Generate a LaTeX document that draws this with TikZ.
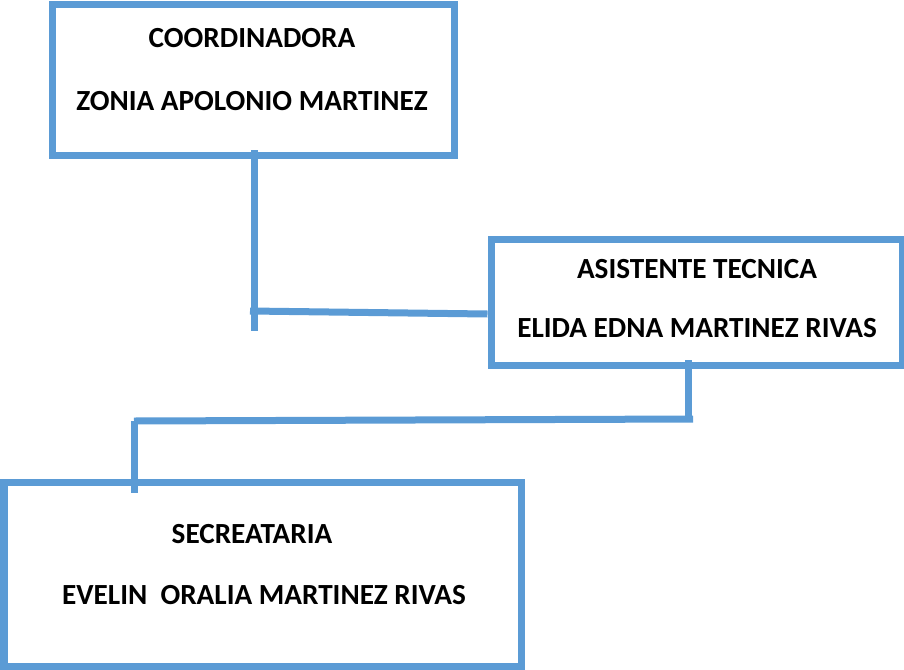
\documentclass[tikz,border=0pt]{standalone}
\usepackage{fontspec}
\setmainfont{Carlito}
\definecolor{azul}{HTML}{5B9BD5}
\begin{document}
\begin{tikzpicture}[x=0.5pt,y=-0.5pt,
        caja/.style={draw=azul, line width=3.5pt, rectangle, inner sep=0pt},
        texto/.style={anchor=base, inner sep=0pt, font=\fontsize{14.6}{17}\selectfont\bfseries},
        linea/.style={draw=azul, line width=3.5pt}]
        \useasboundingbox (0,0) rectangle (904,669);

        \node[caja, minimum width=201pt, minimum height=75.25pt] (Coord) at (253.6,80.2) {};
        \node[caja, minimum width=205.5pt, minimum height=63pt] (Asis) at (696.5,302) {};
        \node[caja, minimum width=258.5pt, minimum height=92pt] (Secre) at (262.5,574) {};

        \node[texto] (CoordTit) at (252,47) {COORDINADORA};
        \node[texto] (CoordNom) at (252,110) {ZONIA APOLONIO MARTINEZ};
        \node[texto] (AsisTit) at (697,278) {ASISTENTE TECNICA};
        \node[texto] (AsisNom) at (697,337) {ELIDA EDNA MARTINEZ RIVAS};
        \node[texto] (SecreTit) at (252,543) {SECREATARIA};
        \node[texto] (SecreNom) at (264,604) {EVELIN\ \ ORALIA MARTINEZ RIVAS};

        \coordinate (A1) at (254,150);
        \coordinate (A2) at (254,331);
        \coordinate (A3) at (250,311);
        \coordinate (B1) at (688,360);
        \coordinate (B2) at (688,418);
        \coordinate (B3) at (693,419);
        \coordinate (B4) at (134,421);
        \coordinate (B5) at (134,493);

        \draw[linea] (A1) -- (A2);
        \draw[linea] (A3) -- ([yshift=-6pt]Asis.west);
        \draw[linea] (B1) -- (B2);
        \draw[linea] (B3) -- (B4);
        \draw[linea] (B4) -- (B5);
    \end{tikzpicture}
\end{document}
